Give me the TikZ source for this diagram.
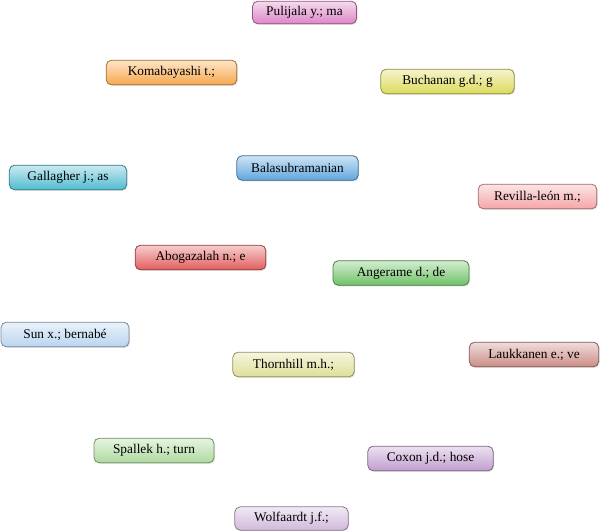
\documentclass[tikz,border=0pt]{standalone}
\usepackage{fontspec}
\setmainfont{Liberation Serif}
\usepackage{tikz}
\usepackage{xcolor}
\usetikzlibrary{shadows}
\definecolor{pinkmag}{HTML}{DE86C6}
\definecolor{orangeb}{HTML}{F7A74C}
\definecolor{yellowb}{HTML}{DCDB5C}
\definecolor{blueb}{HTML}{5FA6DE}
\definecolor{cyanb}{HTML}{50BBD0}
\definecolor{rosea}{HTML}{F5A6A8}
\definecolor{redb}{HTML}{E25D5D}
\definecolor{greenb}{HTML}{6FC268}
\definecolor{skyb}{HTML}{B9D5EF}
\definecolor{paley}{HTML}{DFDF98}
\definecolor{brownb}{HTML}{CB8D86}
\definecolor{mintb}{HTML}{AEDA9F}
\definecolor{lavb}{HTML}{C19DCF}
\definecolor{lilacb}{HTML}{D0B9DB}

\begin{document}
\begin{tikzpicture}[x=0.75pt,y=-0.75pt,
    author/.style={draw=#1!65!black,semithick,rounded corners=4pt,
      top color=#1!30!white,bottom color=#1,minimum height=18.5pt,
      inner sep=2pt,font=\fontsize{10}{12}\selectfont,
      drop shadow={opacity=0.25,shadow xshift=0.8pt,shadow yshift=-0.8pt}}]
  \useasboundingbox (0,0) rectangle (600,532);
  \node[author=pinkmag,minimum width=78pt,minimum height=17pt] (pul) at (304.5,12.5) {Pulijala y.; ma};
  \node[author=orangeb,minimum width=98pt] (kom) at (171.5,72.5) {Komabayashi t.;};
  \node[author=yellowb,minimum width=100pt] (buc) at (447.5,81.5) {Buchanan g.d.; g};
  \node[author=blueb,minimum width=91pt] (bal) at (297.5,168) {Balasubramanian};
  \node[author=cyanb,minimum width=88pt] (gal) at (68,177.5) {Gallagher j.; as};
  \node[author=rosea,minimum width=89pt] (rev) at (537.5,196.5) {Revilla-león m.;};
  \node[author=redb,minimum width=98pt] (abo) at (200.5,257.5) {Abogazalah n.; e};
  \node[author=greenb,minimum width=102pt] (ang) at (401,273) {Angerame d.; de};
  \node[author=skyb,minimum width=96pt] (sun) at (65,334.5) {Sun x.; bernabé};
  \node[author=paley,minimum width=91pt] (tho) at (293.5,364.5) {Thornhill m.h.;};
  \node[author=brownb,minimum width=97pt] (lau) at (534,354.5) {Laukkanen e.; ve};
  \node[author=mintb,minimum width=90pt] (spa) at (154,450.5) {Spallek h.; turn};
  \node[author=lavb,minimum width=94pt] (cox) at (430.5,458.5) {Coxon j.d.; hose};
  \node[author=lilacb,minimum width=85pt,minimum height=17.5pt] (wol) at (291.5,518.5) {Wolfaardt j.f.;};
\end{tikzpicture}
\end{document}
